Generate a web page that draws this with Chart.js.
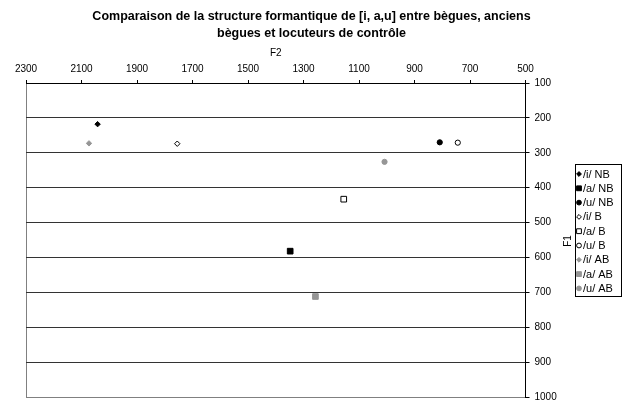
<!DOCTYPE html>
<html>
<head>
<meta charset="utf-8">
<title>Structure formantique</title>
<script src="https://cdn.jsdelivr.net/npm/chart.js@4"></script>
<style>
  html, body { margin: 0; padding: 0; background: #fff; }
  #box { width: 623px; height: 403px; }
</style>
</head>
<body>
<div id="box"><canvas id="chart1" width="623" height="403"></canvas></div>
<script>
// ---- data (F2 = x, F1 = y, both in Hz) ----
var seriesNames = ['/i/ NB', '/a/ NB', '/u/ NB', '/i/ B', '/a/ B', '/u/ B', '/i/ AB', '/a/ AB', '/u/ AB'];
var f2Values = [2042, 1348, 809, 1755, 1155, 744, 2073, 1257, 1008];
var f1Values = [218, 582, 270, 274, 433, 271, 273, 712, 326];
var f2Ticks = [2300, 2100, 1900, 1700, 1500, 1300, 1100, 900, 700, 500];
var f1Ticks = [100, 200, 300, 400, 500, 600, 700, 800, 900, 1000];

var chartTitle = ['Comparaison de la structure formantique de [i, a,u] entre bègues, anciens',
                  'bègues et locuteurs de contrôle'];

//marker look per series : shape by vowel, colour by group (NB / B / AB)
var shapes = ['rectRot', 'rect', 'circle'];
var sizes = [2.7, 4, 2.6];          // chart marker radius per shape
var legendSizes = [2.4, 3.4, 2.4];  // legend marker radius per shape
var GRAY = '#969696';

function markerStyle(i) {
	var vowel = i % 3, group = Math.floor(i / 3);
	var fill = '#000', line = '#000';
	if (group == 1) fill = '#fff';
	if (group == 2) { fill = GRAY; line = GRAY; }
	return { shape: shapes[vowel], radius: sizes[vowel], legendRadius: legendSizes[vowel], fill: fill, line: line };
}

Chart.defaults.font.family = "'Liberation Sans', Arial, sans-serif";
Chart.defaults.color = '#000';

//build one scatter dataset for every series
function buildDatasets() {
	var sets = [];
	for (var i = 0; i < seriesNames.length; i++) {
		var st = markerStyle(i);
		sets.push({
			label: seriesNames[i],
			data: [{ x: f2Values[i], y: f1Values[i] }],
			pointStyle: st.shape,
			pointRadius: st.radius,
			pointHoverRadius: st.radius,
			pointBackgroundColor: st.fill,
			pointBorderColor: st.line,
			pointBorderWidth: 1
		});
	}
	return sets;
}

//small marker drawer for the legend (same shapes as chart.js)
function drawMarker(ctx, shape, x, y, r, fill, line) {
	ctx.beginPath();
	if (shape == 'circle') {
		ctx.arc(x, y, r, 0, Math.PI * 2);
	} else if (shape == 'rect') {
		var s = r * Math.SQRT1_2;
		ctx.rect(x - s, y - s, 2 * s, 2 * s);
	} else {
		ctx.moveTo(x - r, y); ctx.lineTo(x, y - r); ctx.lineTo(x + r, y); ctx.lineTo(x, y + r);
		ctx.closePath();
	}
	ctx.fillStyle = fill; ctx.fill();
	ctx.lineWidth = 1; ctx.strokeStyle = line; ctx.stroke();
}

//legend box + rotated F1 title on the right side
var sidePlugin = {
	id: 'sideStuff',
	afterDraw: function(chart) {
		var ctx = chart.ctx;
		ctx.save();
		// F1 title, read bottom to top
		ctx.font = "10px 'Liberation Sans', Arial, sans-serif";
		ctx.fillStyle = '#000';
		ctx.textAlign = 'center';
		ctx.textBaseline = 'middle';
		ctx.translate(568.5, 241);
		ctx.rotate(-Math.PI / 2);
		ctx.fillText('F1', 0, 0);
		ctx.restore();

		ctx.save();
		ctx.strokeStyle = '#000';
		ctx.lineWidth = 1;
		ctx.strokeRect(575.5, 164.5, 46, 132);
		ctx.font = "11px 'Liberation Sans', Arial, sans-serif";
		ctx.textAlign = 'left';
		ctx.textBaseline = 'middle';
		for (var i = 0; i < seriesNames.length; i++) {
			var st = markerStyle(i);
			var y = 174 + i * 14.3;
			drawMarker(ctx, st.shape, 579, y, st.legendRadius, st.fill, st.line);
			ctx.fillStyle = '#000';
			ctx.fillText(seriesNames[i], 583, y + 0.5);
		}
		ctx.restore();
	}
};

//white page behind everything
var whitePlugin = {
	id: 'white',
	beforeDraw: function(chart) {
		var ctx = chart.ctx;
		ctx.save();
		ctx.fillStyle = '#fff';
		ctx.fillRect(0, 0, chart.width, chart.height);
		ctx.restore();
	}
};

function drawChart1(id) {
	var el = document.getElementById(id);
	if (!el) return;

	new Chart(el, {
		type: 'scatter',
		data: { datasets: buildDatasets() },
		plugins: [whitePlugin, sidePlugin],
		options: {
			responsive: false,
			animation: false,
			// same padding both sides so the title stays centred on the page
			layout: { padding: { left: 26, right: 26, top: 0, bottom: 6 } },
			plugins: {
				legend: { display: false },
				tooltip: { enabled: false },
				title: {
					display: true,
					text: chartTitle,
					font: { size: 12.5, weight: 'bold', lineHeight: 1.36 },
					padding: { top: 8, bottom: 0.5 },
					color: '#000'
				}
			},
			scales: {
				x: {
					type: 'linear',
					position: 'top',
					reverse: true,
					min: 500,
					max: 2300,
					afterBuildTicks: function(s) { s.ticks = f2Ticks.map(function(v) { return { value: v }; }); },
					afterFit: function(s) { s.height = 40.5; s.paddingLeft = 0; s.paddingRight = 0; },
					ticks: {
						font: { size: 10 },
						padding: 5,
						maxRotation: 0,
						autoSkip: false,
						callback: function(v) { return String(v); }
					},
					grid: {
						drawOnChartArea: true,
						tickLength: 3,
						tickColor: '#000',
						color: function(c) { return (c.tick && c.tick.value == 2300) ? '#808080' : 'rgba(0,0,0,0)'; }
					},
					border: { color: '#000', width: 1 },
					title: { display: true, text: 'F2', font: { size: 10 }, padding: { top: 5, bottom: 0 } }
				},
				y: {
					type: 'linear',
					position: 'right',
					reverse: true,
					min: 100,
					max: 1000,
					afterBuildTicks: function(s) { s.ticks = f1Ticks.map(function(v) { return { value: v }; }); },
					afterFit: function(s) { s.width = 71.5; s.paddingTop = 0; s.paddingBottom = 0; },
					ticks: {
						font: { size: 10 },
						padding: 5,
						autoSkip: false,
						callback: function(v) { return String(v); }
					},
					grid: {
						tickLength: 4,
						tickColor: '#000',
						color: function(c) { return (c.tick && c.tick.value == 1000) ? '#808080' : '#333'; }
					},
					border: { color: '#000', width: 1 }
				}
			}
		}
	});
}

drawChart1('chart1');
</script>
</body>
</html>
